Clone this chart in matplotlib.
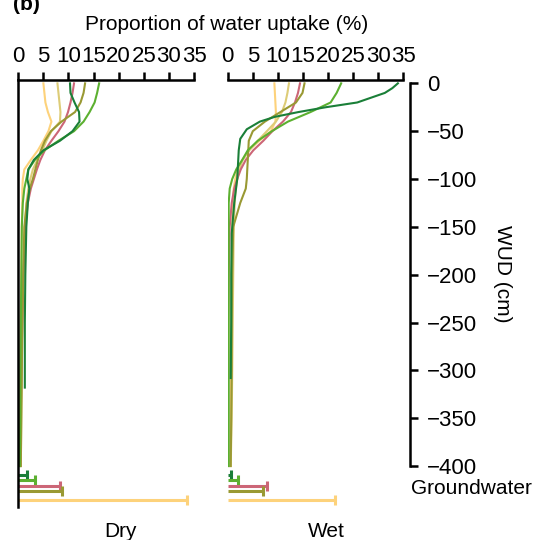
import numpy as np
import matplotlib.pyplot as plt

plt.rcParams['font.family'] = ['Liberation Sans', 'DejaVu Sans']
plt.rcParams['font.size'] = 15

# couleurs des séries
colors = {
    "yellow": "#fdd27b",
    "sand": "#ddcc77",
    "rose": "#cc6677",
    "olive": "#999933",
    "dkgreen": "#1a7f38",
    "ltgreen": "#5cb030",
}

depth = [0, 10, 20, 30, 40, 50, 60, 70, 80, 90, 100, 110, 125, 150, 200, 250, 300, 350, 400]

# --- saison sèche ---
dry_yellow = [5.0, 5.2, 5.4, 5.9, 6.6, 6.0, 5.0, 3.9, 2.5, 1.2, 0.9, 0.8, 0.8, 0.7, 0.6, 0.5, 0.5, 0.4, 0.4]
dry_sand = [7.8, 8.0, 8.2, 8.4, 8.3, 6.6, 5.6, 4.8, 3.8, 2.9, 2.4, 2.0, 1.6, 1.3, 1.0, 0.8, 0.7, 0.6, 0.5]
dry_rose = [11.1, 10.8, 10.4, 9.9, 9.2, 8.0, 6.6, 5.3, 4.4, 3.7, 3.1, 2.5, 1.9, 1.4, 1.0, 0.8, 0.6, 0.5, 0.4]
dry_olive = [13.3, 13.0, 12.4, 11.3, 8.6, 6.5, 5.3, 4.5, 3.9, 3.4, 2.9, 2.3, 1.7, 1.2, 1.0, 0.8, 0.7, 0.6, 0.5]
dry_ltgreen = [16.1, 15.7, 15.2, 14.2, 13.0, 11.1, 8.0, 5.2, 3.3, 2.0, 1.6, 1.2, 0.9, 0.7, 0.6, 0.5, 0.4, 0.4, 0.3]
dry_dkgreen_depth = [0, 10, 20, 30, 40, 50, 60, 70, 80, 90, 100, 110, 125, 150, 200, 250, 300, 318]
dry_dkgreen = [10.3, 10.4, 11.2, 12.1, 12.2, 10.8, 8.3, 5.0, 3.1, 2.0, 1.8, 2.2, 1.9, 1.6, 1.4, 1.3, 1.3, 1.3]

# --- saison humide ---
wet_yellow = [9.3, 9.4, 9.5, 9.6, 9.5, 8.6, 6.3, 4.2, 2.9, 2.0, 1.5, 1.2, 1.0, 0.9, 0.8, 0.8, 0.7, 0.6, 0.5]
wet_sand = [12.2, 11.9, 11.5, 10.8, 9.6, 7.8, 6.0, 4.3, 3.0, 2.3, 1.9, 1.6, 1.4, 1.2, 1.1, 1.0, 0.9, 0.8, 0.6]
wet_rose = [14.4, 14.0, 13.4, 12.6, 11.0, 8.9, 7.1, 5.1, 3.6, 2.6, 1.9, 1.3, 0.8, 0.4, 0.2, 0.1, 0.1, 0.1, 0.1]
wet_olive = [15.3, 14.9, 13.6, 10.5, 7.4, 5.0, 4.2, 4.1, 4.0, 3.9, 3.8, 3.6, 2.5, 1.1, 0.9, 0.8, 0.8, 0.7, 0.6]
wet_ltgreen = [22.6, 21.7, 20.5, 16.5, 12.0, 8.8, 6.0, 4.0, 2.9, 1.7, 0.9, 0.4, 0.2, 0.2, 0.2, 0.2, 0.2, 0.2, 0.2]
wet_dkgreen_depth = [0, 5, 10, 20, 25, 30, 35, 40, 48, 58, 70, 80, 100, 125, 157, 200, 250, 308]
wet_dkgreen = [33.9, 32.8, 31.3, 25.8, 19.5, 14.1, 9.4, 6.4, 3.8, 2.5, 2.2, 2.1, 1.9, 1.3, 0.8, 0.7, 0.7, 0.6]

# eaux souterraines (barres horizontales sous le profil)
gw_names = ["dkgreen", "ltgreen", "rose", "olive", "yellow"]
gw_depth = [-409, -415, -420.5, -426, -435]
gw_dry = [1.7, 3.3, 8.3, 8.7, 33.7]
gw_wet = [0.7, 2.0, 7.8, 7.0, 21.3]

depth_ticks = [0, -50, -100, -150, -200, -250, -300, -350, -400]
x_ticks = [0, 5, 10, 15, 20, 25, 30, 35]

W, H = 549, 540
fig = plt.figure(figsize=(W / 100, H / 100), dpi=100)

bottom = 1 - 506.7 / H
top = 1 - 80 / H
ylim = (-442.5, 3.5)


def style_panel(ax, show_left):
    ax.set_xlim(0, 35)
    ax.set_ylim(*ylim)
    ax.xaxis.tick_top()
    ax.set_xticks(x_ticks)
    ax.tick_params(axis="x", direction="out", length=6, width=1.8, pad=3, labelsize=16)
    ax.set_yticks([])
    for s in ["right", "bottom"]:
        ax.spines[s].set_visible(False)
    ax.spines["top"].set_linewidth(1.8)
    ax.spines["left"].set_linewidth(1.8)
    ax.spines["left"].set_visible(show_left)
    ax.patch.set_alpha(0)


def draw_profiles(ax, series, dk_depth, dk_vals):
    for name, vals in series:
        ax.plot(vals, [-d for d in depth], color=colors[name], lw=1.5)
    ax.plot(dk_vals, [-d for d in dk_depth], color=colors["dkgreen"], lw=1.5)


def draw_groundwater(ax, vals):
    for name, y, v in zip(gw_names, gw_depth, vals):
        ax.plot([0, v], [y, y], color=colors[name], lw=2.2, solid_capstyle="butt", clip_on=False)
        ax.plot([v], [y], marker="|", ms=6.5, mew=2.2, color=colors[name], clip_on=False)


ax_dry = fig.add_axes([18.3 / W, bottom, 175.7 / W, top - bottom])
ax_wet = fig.add_axes([227.7 / W, bottom, 175.7 / W, top - bottom])

draw_profiles(ax_dry, [("yellow", dry_yellow), ("sand", dry_sand), ("rose", dry_rose),
                       ("olive", dry_olive), ("ltgreen", dry_ltgreen)],
              dry_dkgreen_depth, dry_dkgreen)
draw_profiles(ax_wet, [("yellow", wet_yellow), ("sand", wet_sand), ("rose", wet_rose),
                       ("olive", wet_olive), ("ltgreen", wet_ltgreen)],
              wet_dkgreen_depth, wet_dkgreen)
draw_groundwater(ax_dry, gw_dry)
draw_groundwater(ax_wet, gw_wet)
style_panel(ax_dry, True)
style_panel(ax_wet, False)

# axe de profondeur à droite
ax_d = fig.add_axes([410 / W - 0.0001, bottom, 0.0001, top - bottom])
ax_d.set_ylim(*ylim)
ax_d.set_xticks([])
for s in ["left", "top", "bottom"]:
    ax_d.spines[s].set_visible(False)
ax_d.spines["right"].set_bounds(-400, 0)
ax_d.spines["right"].set_linewidth(1.8)
ax_d.yaxis.tick_right()
ax_d.set_yticks(depth_ticks)
ax_d.tick_params(axis="y", direction="out", length=6, width=1.8, pad=6, labelsize=16)

fig.text(502 / W, 1 - 274 / H, "WUD (cm)", rotation=270, ha="center", va="center")
fig.text(411 / W, 1 - 488 / H, "Groundwater", ha="left", va="center")
fig.text(226.5 / W, 1 - 29.5 / H, "Proportion of water uptake (%)", ha="center", va="baseline")
fig.text(13 / W, 1 - 10 / H, "(b)", ha="left", va="baseline", fontweight="bold")
fig.text(121 / W, 1 - 537 / H, "Dry", ha="center", va="baseline")
fig.text(326.5 / W, 1 - 537 / H, "Wet", ha="center", va="baseline")

plt.savefig("out.png", dpi=100)
